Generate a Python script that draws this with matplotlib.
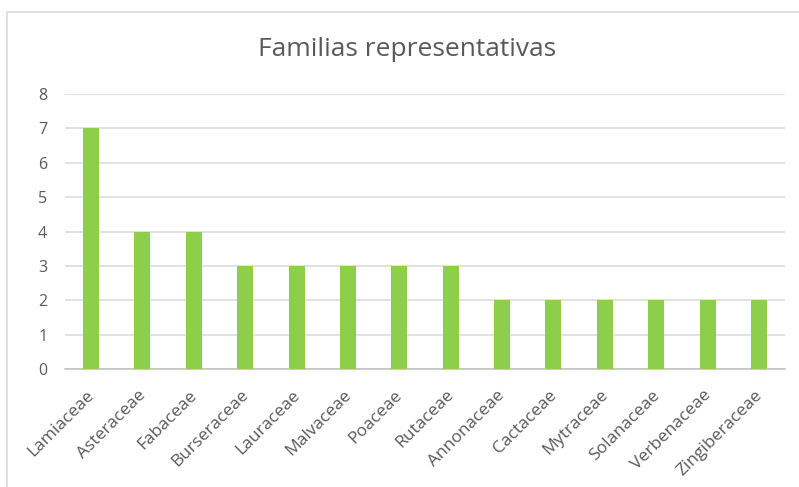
import matplotlib

matplotlib.use("Agg")
import matplotlib.pyplot as plt
from matplotlib.patches import Rectangle
from matplotlib.transforms import ScaledTranslation

families = [
    "Lamiaceae", "Asteraceae", "Fabaceae", "Burseraceae", "Lauraceae",
    "Malvaceae", "Poaceae", "Rutaceae", "Annonaceae", "Cactaceae",
    "Mytraceae", "Solanaceae", "Verbenaceae", "Zingiberaceae",
]
counts = [7, 4, 4, 3, 3, 3, 3, 3, 2, 2, 2, 2, 2, 2]
y_ticks = [0, 1, 2, 3, 4, 5, 6, 7, 8]

plt.rcParams["font.family"] = ["Open Sans", "DejaVu Sans"]
text_grey = "#595959"

fig = plt.figure(figsize=(7.99, 4.87), dpi=100)
fig.patch.set_facecolor("white")

# chart frame (runs off the right and bottom edges)
fig.patches.append(Rectangle((7 / 799, -0.1), 1.1, 1 - 12 / 487 + 0.1,
                             transform=fig.transFigure, fill=False,
                             edgecolor="#d9d9d9", linewidth=1.2))

ax = fig.add_axes([65.3 / 799, 1 - 369 / 487, (784.7 - 65.3) / 799, (369 - 94) / 487])
x = range(len(families))
ax.bar(x, counts, width=0.31, color="#8dcf4a", zorder=3)

ax.set_xlim(-0.5, len(families) - 0.5)
ax.set_ylim(0, 8)
ax.set_yticks(y_ticks)
ax.set_xticks(list(x))
ax.set_xticklabels(families, rotation=45, ha="right", rotation_mode="anchor")
ax.tick_params(axis="both", length=0, colors=text_grey)
ax.tick_params(axis="y", pad=13, labelsize=11.5)
ax.tick_params(axis="x", pad=13, labelsize=12.5)

# nudge rotated labels a little left, as in the original
shift = ScaledTranslation(-5 / 100, 0, fig.dpi_scale_trans)
for lbl in ax.get_xticklabels():
    lbl.set_transform(lbl.get_transform() + shift)

ax.grid(axis="y", color="#d9d9d9", linewidth=1.1, zorder=0)
for side in ["top", "right", "left"]:
    ax.spines[side].set_visible(False)
ax.spines["bottom"].set_color("#bfbfbf")
ax.spines["bottom"].set_linewidth(1.1)

fig.text(407 / 799, 1 - 49 / 487, "Familias representativas", ha="center", va="center",
         fontsize=19, color=text_grey)

fig.savefig("out.png", dpi=100)
